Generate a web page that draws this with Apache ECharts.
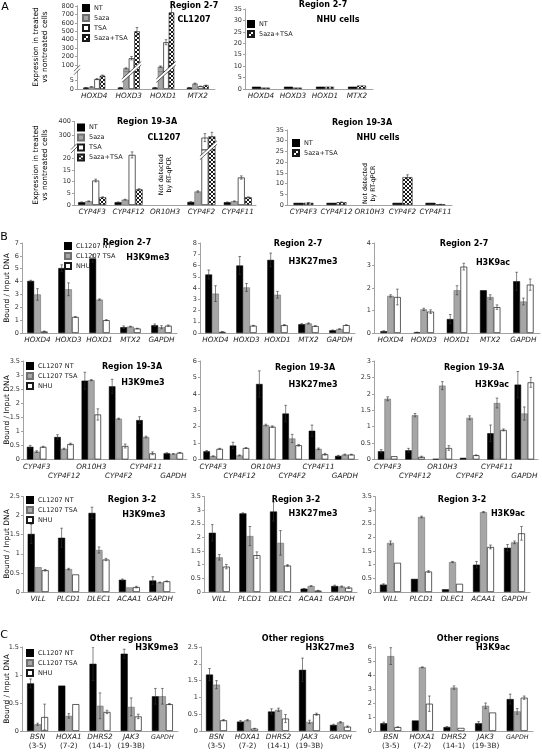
<!DOCTYPE html>
<html><head><meta charset="utf-8">
<script src="https://cdn.jsdelivr.net/npm/echarts@6.0.0/dist/echarts.min.js"></script>
<style>html,body{margin:0;padding:0;background:#fff;}#c{width:542px;height:753px;}</style>
</head><body><div id="c"></div>
<script>
// ---------------- DATA ----------------
// Panel A
const aHoxGenes = ['HOXD4','HOXD3','HOXD1','MTX2'];
const aCypGenes = ['CYP4F3','CYP4F12','OR10H3','CYP4F2','CYP4F11'];
const a1NT = [0.8, 0.8, 0.8, 0.8];
const a1NTErr = [0.05, 0.05, 0.05, 0.05];
const a1Aza = [1.2, 60, 80, 3.0];
const a1AzaErr = [0.1, 6, 8, 0.3];
const a1TSA = [5.5, 180, 370, 1.5];
const a1TSAErr = [0.3, 20, 30, 0.1];
const a1AzaTSA = [7.4, 500, 725, 2.0];
const a1AzaTSAErr = [0.3, 45, 55, 0.15];
const a2NT = [1, 1, 1, 1];
const a2AzaTSA = [0.6, 0.6, 1.0, 1.5];
const a3NT = [1.2, 1.2, null, 1.3, 1.2];
const a3NTErr = [0.05, 0.05, null, 0.05, 0.05];
const a3Aza = [1.6, 2.3, null, 5.8, 1.6];
const a3AzaErr = [0.15, 0.15, null, 0.3, 0.15];
const a3TSA = [10.5, 21.5, null, 280, 11.8];
const a3TSAErr = [0.6, 1.3, null, 30, 0.7];
const a3AzaTSA = [3.3, 6.7, null, 290, 3.3];
const a3AzaTSAErr = [0.2, 0.3, null, 30, 0.2];
const a4NT = [1, 1, null, 1, 1];
const a4AzaTSA = [1.0, 1.3, null, 13, 0.3];
const a4AzaTSAErr = [0.1, 0.1, null, 1.1, 0.05];
const aYTicksA1Upper = [100,200,300,400,500,600,700,800];
const aYTicksA1Lower = [0,5];
const aYTicksA3Upper = [300,400];
const aYTicksA3Lower = [0,5,10,15,20];

// Panel B
const bGenes27 = ['HOXD4','HOXD3','HOXD1','MTX2','GAPDH'];
const bGenes193 = ['CYP4F3','CYP4F12','OR10H3','CYP4F2','CYP4F11','GAPDH'];
const bGenes32 = ['VILL','PLCD1','DLEC1','ACAA1','GAPDH'];
// Region 2-7
const b1NT = [4.05, 5.05, 5.8, 0.45, 0.6];   const b1NTErr = [0.05, 0.25, 0.3, 0.1, 0.1];
const b1TSA = [3.0, 3.4, 2.6, 0.5, 0.45];    const b1TSAErr = [0.45, 0.5, 0.05, 0.03, 0.12];
const b1NHU = [0.12, 1.25, 1.0, 0.35, 0.57]; const b1NHUErr = [0.03, 0.02, 0.04, 0.02, 0.05];
const b2NT = [5.2, 6.0, 6.5, 0.78, 0.24];    const b2NTErr = [0.4, 0.8, 0.6, 0.05, 0.03];
const b2TSA = [3.5, 4.05, 3.4, 0.85, 0.35];  const b2TSAErr = [0.7, 0.35, 0.3, 0.05, 0.03];
const b2NHU = [0.1, 0.65, 0.7, 0.62, 0.7];   const b2NHUErr = [0.02, 0.03, 0.05, 0.03, 0.03];
const b3NT = [0.08, 0.03, 0.62, 1.9, 2.3];   const b3NTErr = [0.02, 0.01, 0.2, 0, 0.4];
const b3TSA = [1.65, 1.05, 1.9, 1.6, 1.4];   const b3TSAErr = [0.05, 0.05, 0.2, 0.1, 0.15];
const b3NHU = [1.6, 0.95, 2.95, 1.15, 2.15]; const b3NHUErr = [0.35, 0.08, 0.15, 0.1, 0.25];
// Region 19-3A
const b4NT = [0.45, 0.8, 2.8, 2.6, 1.4, 0.22];    const b4NTErr = [0.05, 0.08, 0.3, 0.25, 0.12, 0.02];
const b4TSA = [0.28, 0.38, 2.82, 1.45, 0.8, 0.2]; const b4TSAErr = [0.03, 0.02, 0.02, 0.02, 0.03, 0.01];
const b4NHU = [0.45, 0.55, 1.6, 0.48, 0.22, 0.24]; const b4NHUErr = [0.02, 0.03, 0.2, 0.07, 0.05, 0.01];
const b5NT = [0.5, 0.85, 4.6, 2.8, 1.75, 0.22];   const b5NTErr = [0.05, 0.2, 0.8, 0.5, 0.35, 0.03];
const b5TSA = [0.2, 0.25, 2.1, 1.28, 0.65, 0.3];  const b5TSAErr = [0.03, 0.03, 0.05, 0.25, 0.05, 0.03];
const b5NHU = [0.65, 0.7, 2.0, 0.87, 0.32, 0.3];  const b5NHUErr = [0.03, 0.03, 0.05, 0.05, 0.05, 0.02];
const b6NT = [0.25, 0.28, 0.02, 0.05, 0.8, 2.28]; const b6NTErr = [0.05, 0.06, 0, 0, 0.25, 0.4];
const b6TSA = [1.85, 1.35, 2.25, 1.27, 1.72, 1.4]; const b6TSAErr = [0.06, 0.05, 0.12, 0.06, 0.15, 0.2];
const b6NHU = [0.1, 0.08, 0.35, 0.13, 0.9, 2.35]; const b6NHUErr = [0, 0.02, 0.07, 0.01, 0.03, 0.15];
// Region 3-2
const b7NT = [1.52, 1.42, 2.07, 0.32, 0.3];  const b7NTErr = [0.25, 0.25, 0.15, 0.02, 0.1];
const b7TSA = [0.65, 0.6, 1.1, 0.12, 0.25];  const b7TSAErr = [0, 0.02, 0.08, 0, 0.01];
const b7NHU = [0.57, 0.46, 0.85, 0.13, 0.28]; const b7NHUErr = [0.02, 0, 0.03, 0.02, 0.01];
const b8NT = [2.17, 2.88, 2.95, 0.12, 0.22]; const b8NTErr = [0.3, 0.02, 0.35, 0.01, 0.03];
const b8TSA = [1.27, 2.05, 1.8, 0.22, 0.2];  const b8TSAErr = [0.1, 0.35, 0.45, 0.01, 0.02];
const b8NHU = [0.93, 1.35, 0.97, 0.05, 0.16]; const b8NHUErr = [0.08, 0.12, 0.03, 0.01, 0.03];
const b9NT = [0.27, 0.48, 0.1, 1.0, 1.62];   const b9NTErr = [0.03, 0, 0, 0.12, 0.12];
const b9TSA = [1.8, 2.75, 1.1, 2.93, 1.82];  const b9TSAErr = [0.07, 0.03, 0.02, 0.02, 0.05];
const b9NHU = [1.07, 0.75, 0.3, 1.65, 2.15]; const b9NHUErr = [0, 0.03, 0, 0.07, 0.25];

// Panel C
const cGenes = ['BSN','HOXA1','DHRS2','JAK3','GAPDH'];
const cRegions = ['(3-5)','(7-2)','(14-1)','(19-3B)',''];
const c1NT = [0.85, 0.81, 1.2, 1.38, 0.62];  const c1NTErr = [0.08, 0, 0.3, 0.08, 0.14];
const c1TSA = [0.12, 0.27, 0.45, 0.43, 0.62]; const c1TSAErr = [0.02, 0.04, 0.23, 0.16, 0.14];
const c1NHU = [0.25, 0.48, 0.34, 0.26, 0.48]; const c1NHUErr = [0.23, 0, 0.03, 0.04, 0.01];
const c2NT = [1.68, 0.28, 0.58, 1.82, 0.18]; const c2NTErr = [0.18, 0.03, 0.08, 0.35, 0.02];
const c2TSA = [1.38, 0.32, 0.63, 0.27, 0.26]; const c2TSAErr = [0.12, 0.02, 0.05, 0.05, 0.02];
const c2NHU = [0.32, 0.07, 0.37, 0.5, 0.13]; const c2NHUErr = [0.02, 0.01, 0.12, 0.03, 0.02];
const c3NT = [0.55, 0.75, 0.28, 0.55, 2.28]; const c3NTErr = [0.08, 0, 0.04, 0.12, 0.35];
const c3TSA = [5.35, 4.55, 3.1, 1.8, 1.4];   const c3TSAErr = [0.6, 0.03, 0.12, 0.2, 0.2];
const c3NHU = [0.28, 1.95, 0.22, 1.32, 2.38]; const c3NHUErr = [0.02, 0.55, 0, 0, 0.12];

// ---------------- STYLE / LAYOUT ----------------
const FONT = '"DejaVu Sans", sans-serif';
const pat = (function(){
  const cv = document.createElement('canvas'); cv.width = 4; cv.height = 4;
  const x = cv.getContext('2d'); x.fillStyle = '#fff'; x.fillRect(0,0,4,4); x.fillStyle = '#1a1a1a';
  [[0,0],[1,1],[2,2],[3,3],[3,0],[2,1],[1,2],[0,3]].forEach(p => x.fillRect(p[0],p[1],1,1));
  return cv;
})();
const STY = {
  black: {color:'#000', borderColor:'#000', borderWidth:0.5},
  grey:  {color:'#a6a6a6', borderColor:'#707070', borderWidth:0.6},
  white: {color:'#fff', borderColor:'#1a1a1a', borderWidth:0.7},
  hatch: {color:{image:pat, repeat:'repeat'}, borderColor:'#1a1a1a', borderWidth:0.6}
};

const grids = [], xAxes = [], yAxes = [], series = [], legends = [];

function makeErr(k, n, bw) {
  const off = (k - (n - 1) / 2) * bw;
  return function (params, api) {
    const i = api.value(0), v = api.value(1), e = api.value(2);
    const top = api.coord([i, v + e]), bot = api.coord([i, v - e]);
    const x = top[0] + off, c = 1.3;
    const st = {stroke:'#333', lineWidth:0.6};
    return {type:'group', children:[
      {type:'line', shape:{x1:x, y1:top[1], x2:x, y2:bot[1]}, style:st},
      {type:'line', shape:{x1:x-c, y1:top[1], x2:x+c, y2:top[1]}, style:st},
      {type:'line', shape:{x1:x-c, y1:bot[1], x2:x+c, y2:bot[1]}, style:st}
    ]};
  };
}

function xAx(gi, cats, show, xl) {
  const lab = {interval:0, fontSize:7.3, fontFamily:FONT, fontStyle:'italic', color:'#222', margin:4};
  if (xl === 'alt') { lab.formatter = (v, i) => (i % 2 ? '\n' + v : v); lab.lineHeight = 9; lab.margin = 3; }
  if (xl === 'region') {
    lab.margin = 2;
    lab.formatter = (v, i) => cRegions[i] ? '{g|' + v + '}\n{r|' + cRegions[i] + '}' : '{s|' + v + '}';
    lab.rich = {
      g:{fontStyle:'italic', fontSize:7.3, fontFamily:FONT, color:'#222', lineHeight:9},
      s:{fontStyle:'italic', fontSize:6.3, fontFamily:FONT, color:'#222', lineHeight:9},
      r:{fontStyle:'normal', fontSize:7.3, fontFamily:FONT, color:'#222', lineHeight:9}
    };
  }
  return {type:'category', gridIndex:gi, data:cats, show:show,
    axisLine:{show:true, lineStyle:{color:'#8a8a8a', width:0.8}},
    axisTick:{show:false}, splitLine:{show:false}, axisLabel:lab};
}
function yAx(gi, min, max, interval, custom) {
  const a = {type:'value', gridIndex:gi, min:min, max:max, splitLine:{show:false},
    axisLine:{show:true, lineStyle:{color:'#8a8a8a', width:0.8}},
    axisTick:{show:true, length:2, lineStyle:{color:'#8a8a8a', width:0.8}},
    axisLabel:{fontSize:6.5, fontFamily:FONT, color:'#333', margin:3, showMaxLabel:true, showMinLabel:true, hideOverlap:false}};
  if (interval) a.interval = interval;
  if (custom) {
    a.axisLabel.customValues = custom; a.axisTick.customValues = custom;
    a.axisLabel.formatter = v => (custom.indexOf(v) >= 0 ? String(v) : '');
  }
  return a;
}
function addBars(gi, list, bw) {
  list.forEach(s => {
    series.push({type:'bar', name:s.name, xAxisIndex:gi, yAxisIndex:gi, data:s.v, barWidth:bw, barGap:'0%',
      clip:true, itemStyle:STY[s.sty], emphasis:{disabled:true}, silent:true, animation:false});
  });
  list.forEach((s, k) => {
    if (!s.e) return;
    const d = [];
    s.v.forEach((v, i) => { if (v != null && s.e[i] != null && s.e[i] > 0) d.push([i, v, s.e[i]]); });
    series.push({type:'custom', xAxisIndex:gi, yAxisIndex:gi, clip:true, silent:true, animation:false, z:3,
      data:d, encode:{x:0, y:1}, renderItem:makeErr(k, list.length, bw)});
  });
}
const charts = [];
function addChart(c) {
  c.gis = [];
  const boxes = c.brk ? [{t:c.t, b:c.brk.y, up:true}, {t:c.brk.y, b:c.b, up:false}] : [{t:c.t, b:c.b, up:false}];
  boxes.forEach(bx => {
    const gi = grids.length; c.gis.push(gi);
    grids.push({left:c.l, width:c.r - c.l, top:bx.t, height:bx.b - bx.t, containLabel:false, outerBoundsMode:'none'});
    xAxes.push(xAx(gi, c.cats, !bx.up, c.xl));
    if (c.brk) {
      if (bx.up) yAxes.push(yAx(gi, c.brk.upMin, c.brk.upMax, null, c.brk.upTicks));
      else yAxes.push(yAx(gi, 0, c.brk.loMax, null, c.brk.loTicks));
    } else yAxes.push(yAx(gi, 0, c.max, c.interval, null));
    addBars(gi, c.series, c.bw);
  });
  if (c.legend) {
    legends.push({orient:'vertical', left:c.legend.left, top:c.legend.top, itemWidth:6, itemHeight:6, itemGap:2,
      padding:0, selectedMode:false, icon:'rect', data:c.series.map(s => s.name), z:6,
      textStyle:{fontSize:6.5, fontFamily:FONT, color:'#222'}});
  }
  charts.push(c);
}
const A = (n, v, e, s) => ({name:n, v:v, e:e, sty:s});

// Panel A charts
addChart({cats:aHoxGenes, l:77, r:215, t:5.6, b:89, bw:5.5, xl:'italic',
  brk:{y:71.7, upMin:20, upMax:805, upTicks:aYTicksA1Upper, loMax:9.6, loTicks:aYTicksA1Lower},
  series:[A('NT',a1NT,a1NTErr,'black'), A('5aza',a1Aza,a1AzaErr,'grey'), A('TSA',a1TSA,a1TSAErr,'white'), A('5aza+TSA',a1AzaTSA,a1AzaTSAErr,'hatch')],
  legend:{left:82, top:4}, titles:[['Region 2-7',194,6],['CL1207',194,20]]});
addChart({cats:aHoxGenes, l:245, r:373, t:9, b:89, max:35, interval:5, bw:9, xl:'italic',
  series:[A('NT',a2NT,null,'black'), A('5aza+TSA',a2AzaTSA,null,'hatch')],
  legend:{left:247, top:20}, titles:[['Region 2-7',323,5],['NHU cells',338,20]]});
addChart({cats:aCypGenes, l:74, r:256, t:121.4, b:205, bw:7, xl:'italic',
  brk:{y:150, upMin:187, upMax:402, upTicks:aYTicksA3Upper, loMax:23.6, loTicks:aYTicksA3Lower},
  series:[A('NT',a3NT,a3NTErr,'black'), A('5aza',a3Aza,a3AzaErr,'grey'), A('TSA',a3TSA,a3TSAErr,'white'), A('5aza+TSA',a3AzaTSA,a3AzaTSAErr,'hatch')],
  legend:{left:77, top:123.5}, titles:[['Region 19-3A',147,122],['CL1207',164,138]], notDet:13});
addChart({cats:aCypGenes, l:287, r:452, t:130, b:205, max:35, interval:5, bw:10, xl:'italic',
  series:[A('NT',a4NT,null,'black'), A('5aza+TSA',a4AzaTSA,a4AzaTSAErr,'hatch')],
  legend:{left:292, top:139}, titles:[['Region 19-3A',362,123],['NHU cells',378,138]], notDet:10});

// Panel B / C charts
const B = (nt, nte, tsa, tsae, nhu, nhue) => [A('CL1207 NT',nt,nte,'black'), A('CL1207 TSA',tsa,tsae,'grey'), A('NHU',nhu,nhue,'white')];
addChart({cats:bGenes27, l:22, r:177, t:243, b:333, max:7, interval:1, bw:6.8, xl:'italic',
  series:B(b1NT,b1NTErr,b1TSA,b1TSAErr,b1NHU,b1NHUErr), legend:{left:64, top:242},
  titles:[['Region 2-7',127,243],['H3K9me3',148,258]]});
addChart({cats:bGenes27, l:200, r:355, t:243, b:333, max:8, interval:1, bw:6.8, xl:'italic',
  series:B(b2NT,b2NTErr,b2TSA,b2TSAErr,b2NHU,b2NHUErr), titles:[['Region 2-7',298,244],['H3K27me3',313,262]]});
addChart({cats:bGenes27, l:374, r:540, t:243, b:333, max:4, interval:1, bw:6.8, xl:'italic',
  series:B(b3NT,b3NTErr,b3TSA,b3TSAErr,b3NHU,b3NHUErr), titles:[['Region 2-7',464,244],['H3K9ac',493,263]]});

addChart({cats:bGenes193, l:23, r:187, t:361, b:459.5, max:3.5, interval:0.5, bw:6.5, xl:'alt',
  series:B(b4NT,b4NTErr,b4TSA,b4TSAErr,b4NHU,b4NHUErr), legend:{left:26, top:362},
  titles:[['Region 19-3A',132,367],['H3K9me3',143,383]]});
addChart({cats:bGenes193, l:200, r:358, t:361, b:459.5, max:6, interval:1, bw:6.5, xl:'alt',
  series:B(b5NT,b5NTErr,b5TSA,b5TSAErr,b5NHU,b5NHUErr), titles:[['Region 19-3A',305,368],['H3K27me3',313,385]]});
addChart({cats:bGenes193, l:374, r:538, t:361, b:459.5, max:3, interval:0.5, bw:6.5, xl:'alt',
  series:B(b6NT,b6NTErr,b6TSA,b6TSAErr,b6NHU,b6NHUErr), titles:[['Region 19-3A',474,368],['H3K9ac',492,385]]});

addChart({cats:bGenes32, l:23, r:175, t:496.5, b:592, max:2.5, interval:0.5, bw:7, xl:'italic',
  series:B(b7NT,b7NTErr,b7TSA,b7TSAErr,b7NHU,b7NHUErr), legend:{left:26, top:496},
  titles:[['Region 3-2',132,500],['H3K9me3',144,515]]});
addChart({cats:bGenes32, l:204, r:357, t:496.5, b:592, max:3.5, interval:0.5, bw:7, xl:'italic',
  series:B(b8NT,b8NTErr,b8TSA,b8TSAErr,b8NHU,b8NHUErr), titles:[['Region 3-2',296,500],['H3K27me3',313,514]]});
addChart({cats:bGenes32, l:375, r:530, t:496.5, b:592, max:3.5, interval:0.5, bw:7, xl:'italic',
  series:B(b9NT,b9NTErr,b9TSA,b9TSAErr,b9NHU,b9NHUErr), titles:[['Region 3-2',462,500],['H3K9ac',508,514]]});

addChart({cats:cGenes, l:22, r:178, t:647, b:731, max:1.5, interval:0.5, bw:7, xl:'region',
  series:B(c1NT,c1NTErr,c1TSA,c1TSAErr,c1NHU,c1NHUErr), legend:{left:26, top:649},
  titles:[['Other regions',121,639],['H3K9me3',157,648]]});
addChart({cats:cGenes, l:201, r:356, t:647, b:731, max:2.5, interval:0.5, bw:7, xl:'region',
  series:B(c2NT,c2NTErr,c2TSA,c2TSAErr,c2NHU,c2NHUErr), titles:[['Other regions',293,639],['H3K27me3',330,648]]});
addChart({cats:cGenes, l:375, r:533, t:647, b:731, max:6, interval:1, bw:7, xl:'region',
  series:B(c3NT,c3NTErr,c3TSA,c3TSAErr,c3NHU,c3NHUErr), titles:[['Other regions',468,639],['H3K9ac',493,648]]});

const chart = echarts.init(document.getElementById('c'), null, {renderer:'canvas', width:542, height:753});
chart.setOption({
  backgroundColor:'#fff', animation:false,
  grid:grids, xAxis:xAxes, yAxis:yAxes, series:series, legend:legends,
  tooltip:{show:false}
});

// ---------------- TEXT / DECORATIONS ----------------
const G = [];
function txt(s, x, y, font, opts) {
  const st = Object.assign({text:s, font:font, fill:'#000', align:'center', verticalAlign:'middle',
    textAlign:'center', textVerticalAlign:'middle'}, opts || {});
  G.push({type:'text', x:x, y:y, rotation:(opts && opts.rot) || 0, style:st, silent:true, z:10});
}
const TF = 'bold 8px ' + FONT;
charts.forEach(c => (c.titles || []).forEach(t => txt(t[0], t[1], t[2], TF)));
txt('A', 5, 7, '11px ' + FONT);
txt('B', 4, 237, '11px ' + FONT);
txt('C', 4, 635, '11px ' + FONT);
const YT = '7.5px ' + FONT;
txt('Expression in treated\nvs nontreated cells', 41, 47, YT, {rot:Math.PI/2, lineHeight:9});
txt('Expression in treated\nvs nontreated cells', 41, 165, YT, {rot:Math.PI/2, lineHeight:9});
[288, 410, 544, 689].forEach(y => txt('Bound / Input DNA', 7, y, YT, {rot:Math.PI/2}));

charts.forEach(c => {
  const gl = c.gis[c.gis.length - 1];
  if (c.notDet != null) {
    const p = chart.convertToPixel({xAxisIndex:gl, yAxisIndex:gl}, ['OR10H3', c.notDet]);
    txt('Not detected\nby RT-qPCR', p[0], p[1], '6.3px ' + FONT, {rot:Math.PI/2, lineHeight:8});
  }
  if (c.brk) {
    const gu = c.gis[0];
    const yB = chart.convertToPixel({xAxisIndex:gu, yAxisIndex:gu}, [c.cats[0], c.brk.upMin])[1];
    const ln = {stroke:'#000', lineWidth:0.6};
    const ax = c.l;
    G.push({type:'polygon', shape:{points:[[ax-3,yB+3],[ax+3,yB-3],[ax+3,yB-6.5],[ax-3,yB-0.5]]}, style:{fill:'#fff'}, z:11, silent:true});
    G.push({type:'line', shape:{x1:ax-3, y1:yB+3, x2:ax+3, y2:yB-3}, style:ln, z:12, silent:true});
    G.push({type:'line', shape:{x1:ax-3, y1:yB-0.5, x2:ax+3, y2:yB-6.5}, style:ln, z:12, silent:true});
    const n = c.series.length;
    c.cats.forEach((cat, i) => {
      const ks = [];
      c.series.forEach((s, k) => { if (s.v[i] != null && s.v[i] > c.brk.upMin) ks.push(k); });
      if (!ks.length) return;
      const xc = chart.convertToPixel({xAxisIndex:gu, yAxisIndex:gu}, [cat, c.brk.upMin])[0];
      const xL = xc + (ks[0] - n / 2) * c.bw - 1.5, xR = xc + (ks[ks.length - 1] + 1 - n / 2) * c.bw + 1.5;
      const h = (xR - xL) * 0.9;
      const p1 = [[xL, yB + h/2 + 2], [xR, yB - h/2 + 2]], p2 = [[xL, yB + h/2 - 1.5], [xR, yB - h/2 - 1.5]];
      G.push({type:'polygon', shape:{points:[p1[0], p1[1], p2[1], p2[0]]}, style:{fill:'#fff'}, z:11, silent:true});
      G.push({type:'line', shape:{x1:p1[0][0], y1:p1[0][1], x2:p1[1][0], y2:p1[1][1]}, style:ln, z:12, silent:true});
      G.push({type:'line', shape:{x1:p2[0][0], y1:p2[0][1], x2:p2[1][0], y2:p2[1][1]}, style:ln, z:12, silent:true});
    });
  }
});
chart.setOption({graphic:{elements:G}});
</script>
</body></html>
